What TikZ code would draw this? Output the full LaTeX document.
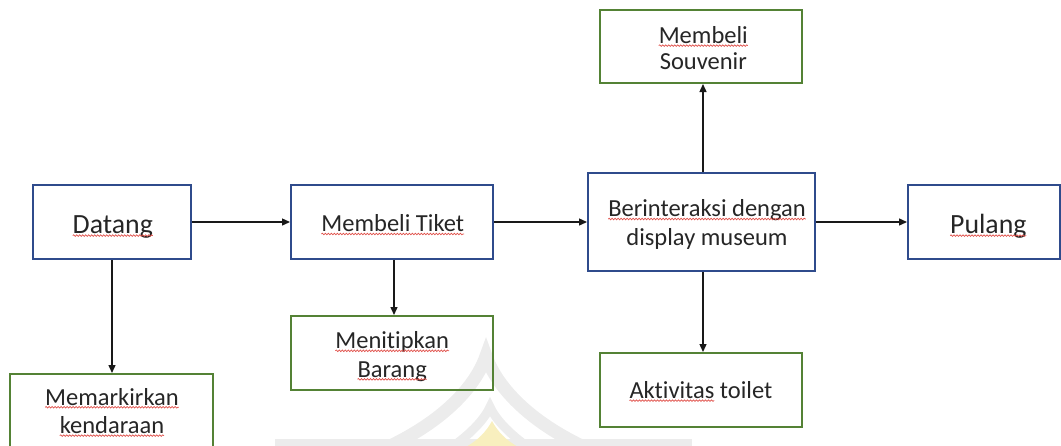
\documentclass[tikz,border=0pt]{standalone}
\usepackage{fontspec}
\setmainfont{Carlito}[Ligatures={NoCommon}]
\usetikzlibrary{arrows.meta,decorations.pathmorphing}

\definecolor{boxblue}{HTML}{2F4B8C}
\definecolor{boxgreen}{HTML}{548235}
\definecolor{ink}{HTML}{262626}
\definecolor{spellred}{HTML}{E0504A}
\definecolor{markgray}{HTML}{ECECEC}
\definecolor{markyellow}{HTML}{F8EFBE}

\tikzset{
  stage/.style={draw=boxblue, line width=2pt, inner sep=0pt},
  side/.style={draw=boxgreen, line width=2pt, inner sep=0pt},
  txt/.style={anchor=base, inner sep=0pt, outer sep=0pt, text=ink,
              font=\fontsize{24.5}{28}\selectfont},
  bigtxt/.style={txt, font=\fontsize{27.8}{32}\selectfont},
  flow/.style={line width=1.4pt, draw=black!90, -{Triangle[length=8pt,width=7pt]}},
  spell/.style={spellred, line width=0.7pt, decorate,
                decoration={snake, amplitude=0.8pt, segment length=3pt}},
}

% wavy underline below the baseline of a text node
\newcommand\wavyline[1]{\draw[spell] ([yshift=-2.3pt]#1.base west) -- ([yshift=-2.3pt]#1.base east);}

\begin{document}
\begin{tikzpicture}[x=1pt,y=-1pt]
\useasboundingbox (0,0) rectangle (1061,445);
\clip (0,0) rectangle (1061,445);

% faint emblem in the background
\fill[markgray] (275,439) rectangle (692,447);
\draw[markgray, line width=13pt] (377,452) .. controls (440,425) and (475,388) .. (486,356)
      .. controls (497,388) and (532,425) .. (595,452);
\draw[markgray, line width=9pt] (445,452) .. controls (470,435) and (484,420) .. (490,407)
      .. controls (496,420) and (510,435) .. (535,452);
\fill[markyellow] (492,421) .. controls (498,432) and (506,440) .. (518,447)
      -- (466,447) .. controls (478,440) and (486,432) .. (492,421) -- cycle;

% boxes
\node[stage, minimum width=158pt, minimum height=74pt] (datang) at (112,222) {};
\node[stage, minimum width=202pt, minimum height=74pt] (tiket) at (392,222) {};
\node[stage, minimum width=227pt, minimum height=98pt] (inter) at (701.5,222) {};
\node[stage, minimum width=151.5pt, minimum height=74pt] (pulang) at (983.75,222) {};
\node[side, minimum width=203pt, minimum height=74pt] (parkir) at (111.5,411) {};
\node[side, minimum width=202pt, minimum height=74pt] (titip) at (392,353) {};
\node[side, minimum width=202pt, minimum height=73pt] (souv) at (701,46.5) {};
\node[side, minimum width=202pt, minimum height=74pt] (toilet) at (701,390) {};

% labels
\node[bigtxt] (datangT) at (112.8,233.3) {Datang};
\node[txt] (tiketT) at (392.8,231.7) {Membeli Tiket};
\node[txt] (titipA) at (392.2,348.5) {Menitipkan};
\node[txt] (titipB) at (392.2,377) {Barang};
\node[txt] (parkirA) at (112,405) {Memarkirkan};
\node[txt] (parkirB) at (112,433.3) {kendaraan};
\node[txt] (interA) at (707,216.7) {Berinteraksi dengan};
\node[txt] (interB) at (707,245) {display museum};
\node[txt] (souvA) at (703.3,43.3) {Membeli};
\node[txt] (souvB) at (703.3,69) {Souvenir};
\node[txt, anchor=base west] (akt) at (629.5,398.3) {Aktivitas};
\node[txt, anchor=base west] (toi) at ([xshift=5.5pt]akt.base east) {toilet};
\node[bigtxt] (pulangT) at (988.3,233.3) {Pulang};

% spelling marks
\wavyline{datangT}
\wavyline{tiketT}
\wavyline{titipA}
\wavyline{titipB}
\wavyline{parkirA}
\wavyline{parkirB}
\wavyline{interA}
\wavyline{souvA}
\wavyline{akt}
\wavyline{pulangT}

% connectors
\draw[flow] (datang.east) -- (tiket.west);
\draw[flow] (tiket.east) -- (inter.west);
\draw[flow] (inter.east) -- (pulang.west);
\draw[flow] (datang.south) -- (datang.south |- parkir.north);
\draw[flow] ([xshift=2pt]tiket.south) -- ([xshift=2pt]tiket.south |- titip.north);
\draw[flow] ([xshift=1.5pt]inter.north) -- ([xshift=1.5pt]inter.north |- souv.south);
\draw[flow] ([xshift=1.5pt]inter.south) -- ([xshift=1.5pt]inter.south |- toilet.north);
\end{tikzpicture}
\end{document}
